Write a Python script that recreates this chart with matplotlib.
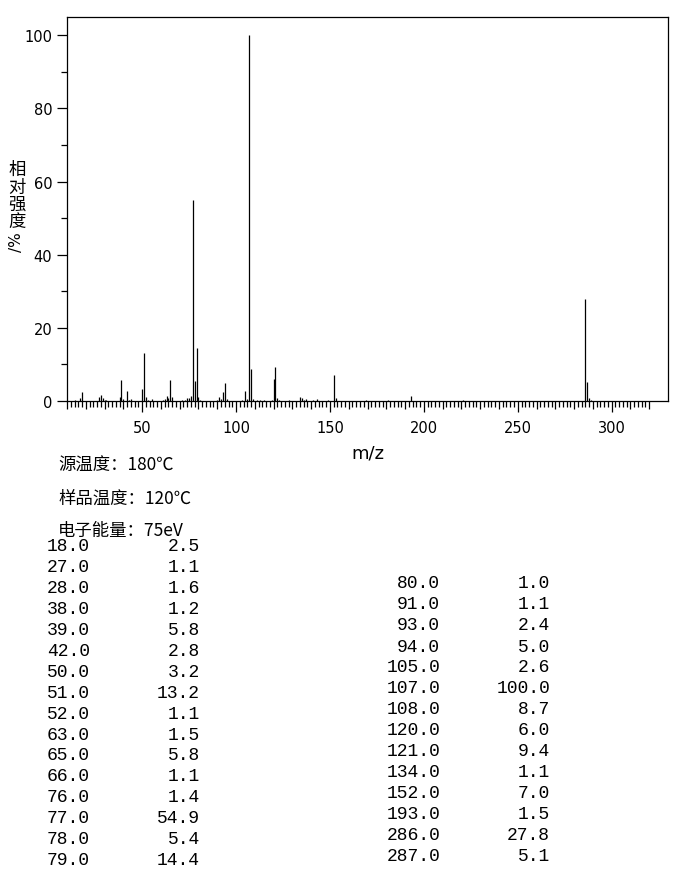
import matplotlib
matplotlib.use("Agg")
import matplotlib.pyplot as plt
from matplotlib.ticker import MultipleLocator, FixedLocator

# ---- data ----
listed_mz = [18, 27, 28, 38, 39, 42, 50, 51, 52, 63, 65, 66, 76, 77, 78, 79,
             80, 91, 93, 94, 105, 107, 108, 120, 121, 134, 152, 193, 286, 287]
listed_int = [2.5, 1.1, 1.6, 1.2, 5.8, 2.8, 3.2, 13.2, 1.1, 1.5, 5.8, 1.1, 1.4, 54.9, 5.4, 14.4,
              1.0, 1.1, 2.4, 5.0, 2.6, 100.0, 8.7, 6.0, 9.4, 1.1, 7.0, 1.5, 27.8, 5.1]
# small unlisted peaks
minor_mz = [14, 17, 29, 30, 31, 40, 43, 44, 53, 55, 61, 62, 64, 71, 73, 74, 75, 81,
            90, 92, 95, 103, 106, 109, 111, 113, 115, 119, 122, 123, 128, 135, 136,
            137, 141, 143, 149, 153, 169, 181, 221, 288, 289]
minor_int = [0.3, 0.9, 0.7, 0.4, 0.3, 0.5, 0.4, 0.5, 0.3, 0.5, 0.3, 0.5, 0.8, 0.3, 0.3, 0.8,
             0.9, 0.3, 0.4, 0.6, 0.5, 0.3, 0.5, 0.6, 0.4, 0.4, 0.4, 0.4, 0.8, 0.3, 0.3,
             0.8, 0.4, 0.5, 0.3, 0.5, 0.3, 0.9, 0.3, 0.3, 0.4, 0.8, 0.3]

header_lines = ["源温度：180℃", "样品温度：120℃", "电子能量：75eV"]
left_rows = 16  # number of table rows in left column

W, H = 680, 879
fig = plt.figure(figsize=(W / 100, H / 100), dpi=100)

def fx(px):
    return px / W

def fy(py):
    return 1 - py / H

ax = fig.add_axes([fx(67), fy(402), fx(668) - fx(67), fy(18) - fy(402)])
ax.vlines(listed_mz + minor_mz, 0, listed_int + minor_int, colors="black", linewidth=0.9)
ax.set_xlim(10, 330)
ax.set_ylim(0, 105)

for s in ax.spines.values():
    s.set_linewidth(0.9)
    s.set_color("black")

ax.xaxis.set_major_locator(FixedLocator([50, 100, 150, 200, 250, 300]))
ax.xaxis.set_minor_locator(FixedLocator([v for v in range(10, 321, 2) if v % 10 != 0]))
ax.yaxis.set_major_locator(MultipleLocator(20))
ax.yaxis.set_minor_locator(MultipleLocator(10))

ax.tick_params(axis="x", which="major", direction="out", length=8, width=0.9, pad=6,
               labelsize=10.5)
ax.tick_params(axis="x", which="minor", direction="out", length=4.5, width=0.9)
ax.tick_params(axis="y", which="major", direction="out", length=7.5, width=0.9, pad=3,
               labelsize=10.5)
ax.tick_params(axis="y", which="minor", direction="out", length=4, width=0.9)

# medium ticks every 10 units (no labels)
sec = ax.secondary_xaxis("bottom")
sec.xaxis.set_major_locator(FixedLocator([v for v in range(10, 321, 10) if v % 50 != 0]))
sec.tick_params(axis="x", direction="out", length=6, width=0.9, labelbottom=False)
sec.spines["bottom"].set_visible(False)

ax.set_xlabel("m/z", fontsize=13, family="DejaVu Sans", labelpad=6)

# y label: stacked CJK characters and rotated "%/"
ylab_chars = ["相", "对", "强", "度"]
for i, ch in enumerate(ylab_chars):
    fig.text(fx(17), fy(170 + 17.5 * i), ch, ha="center", va="center", fontsize=12.5,
             family=["Noto Sans CJK SC", "DejaVu Sans"])
fig.text(fx(17), fy(242), "/%", ha="center", va="center", rotation=90, fontsize=11,
         family="DejaVu Sans")

# header lines
for i, t in enumerate(header_lines):
    fig.text(fx(58), fy(466 + 32.5 * i), t, ha="left", va="center", fontsize=12.5,
             family=["Noto Sans CJK SC", "DejaVu Sans"])

# table
mono = "Liberation Mono"
for i, (m, v) in enumerate(zip(listed_mz, listed_int)):
    if i < left_rows:
        y = 547 + 20.9 * i
        xm, xv = 90, 200
    else:
        y = 584 + 21.0 * (i - left_rows)
        xm, xv = 440, 550
    fig.text(fx(xm), fy(y), f"{m:.1f}", ha="right", va="center", fontsize=13, family=mono)
    fig.text(fx(xv), fy(y), f"{v:.1f}", ha="right", va="center", fontsize=13, family=mono)

fig.savefig("out.png", dpi=100)
